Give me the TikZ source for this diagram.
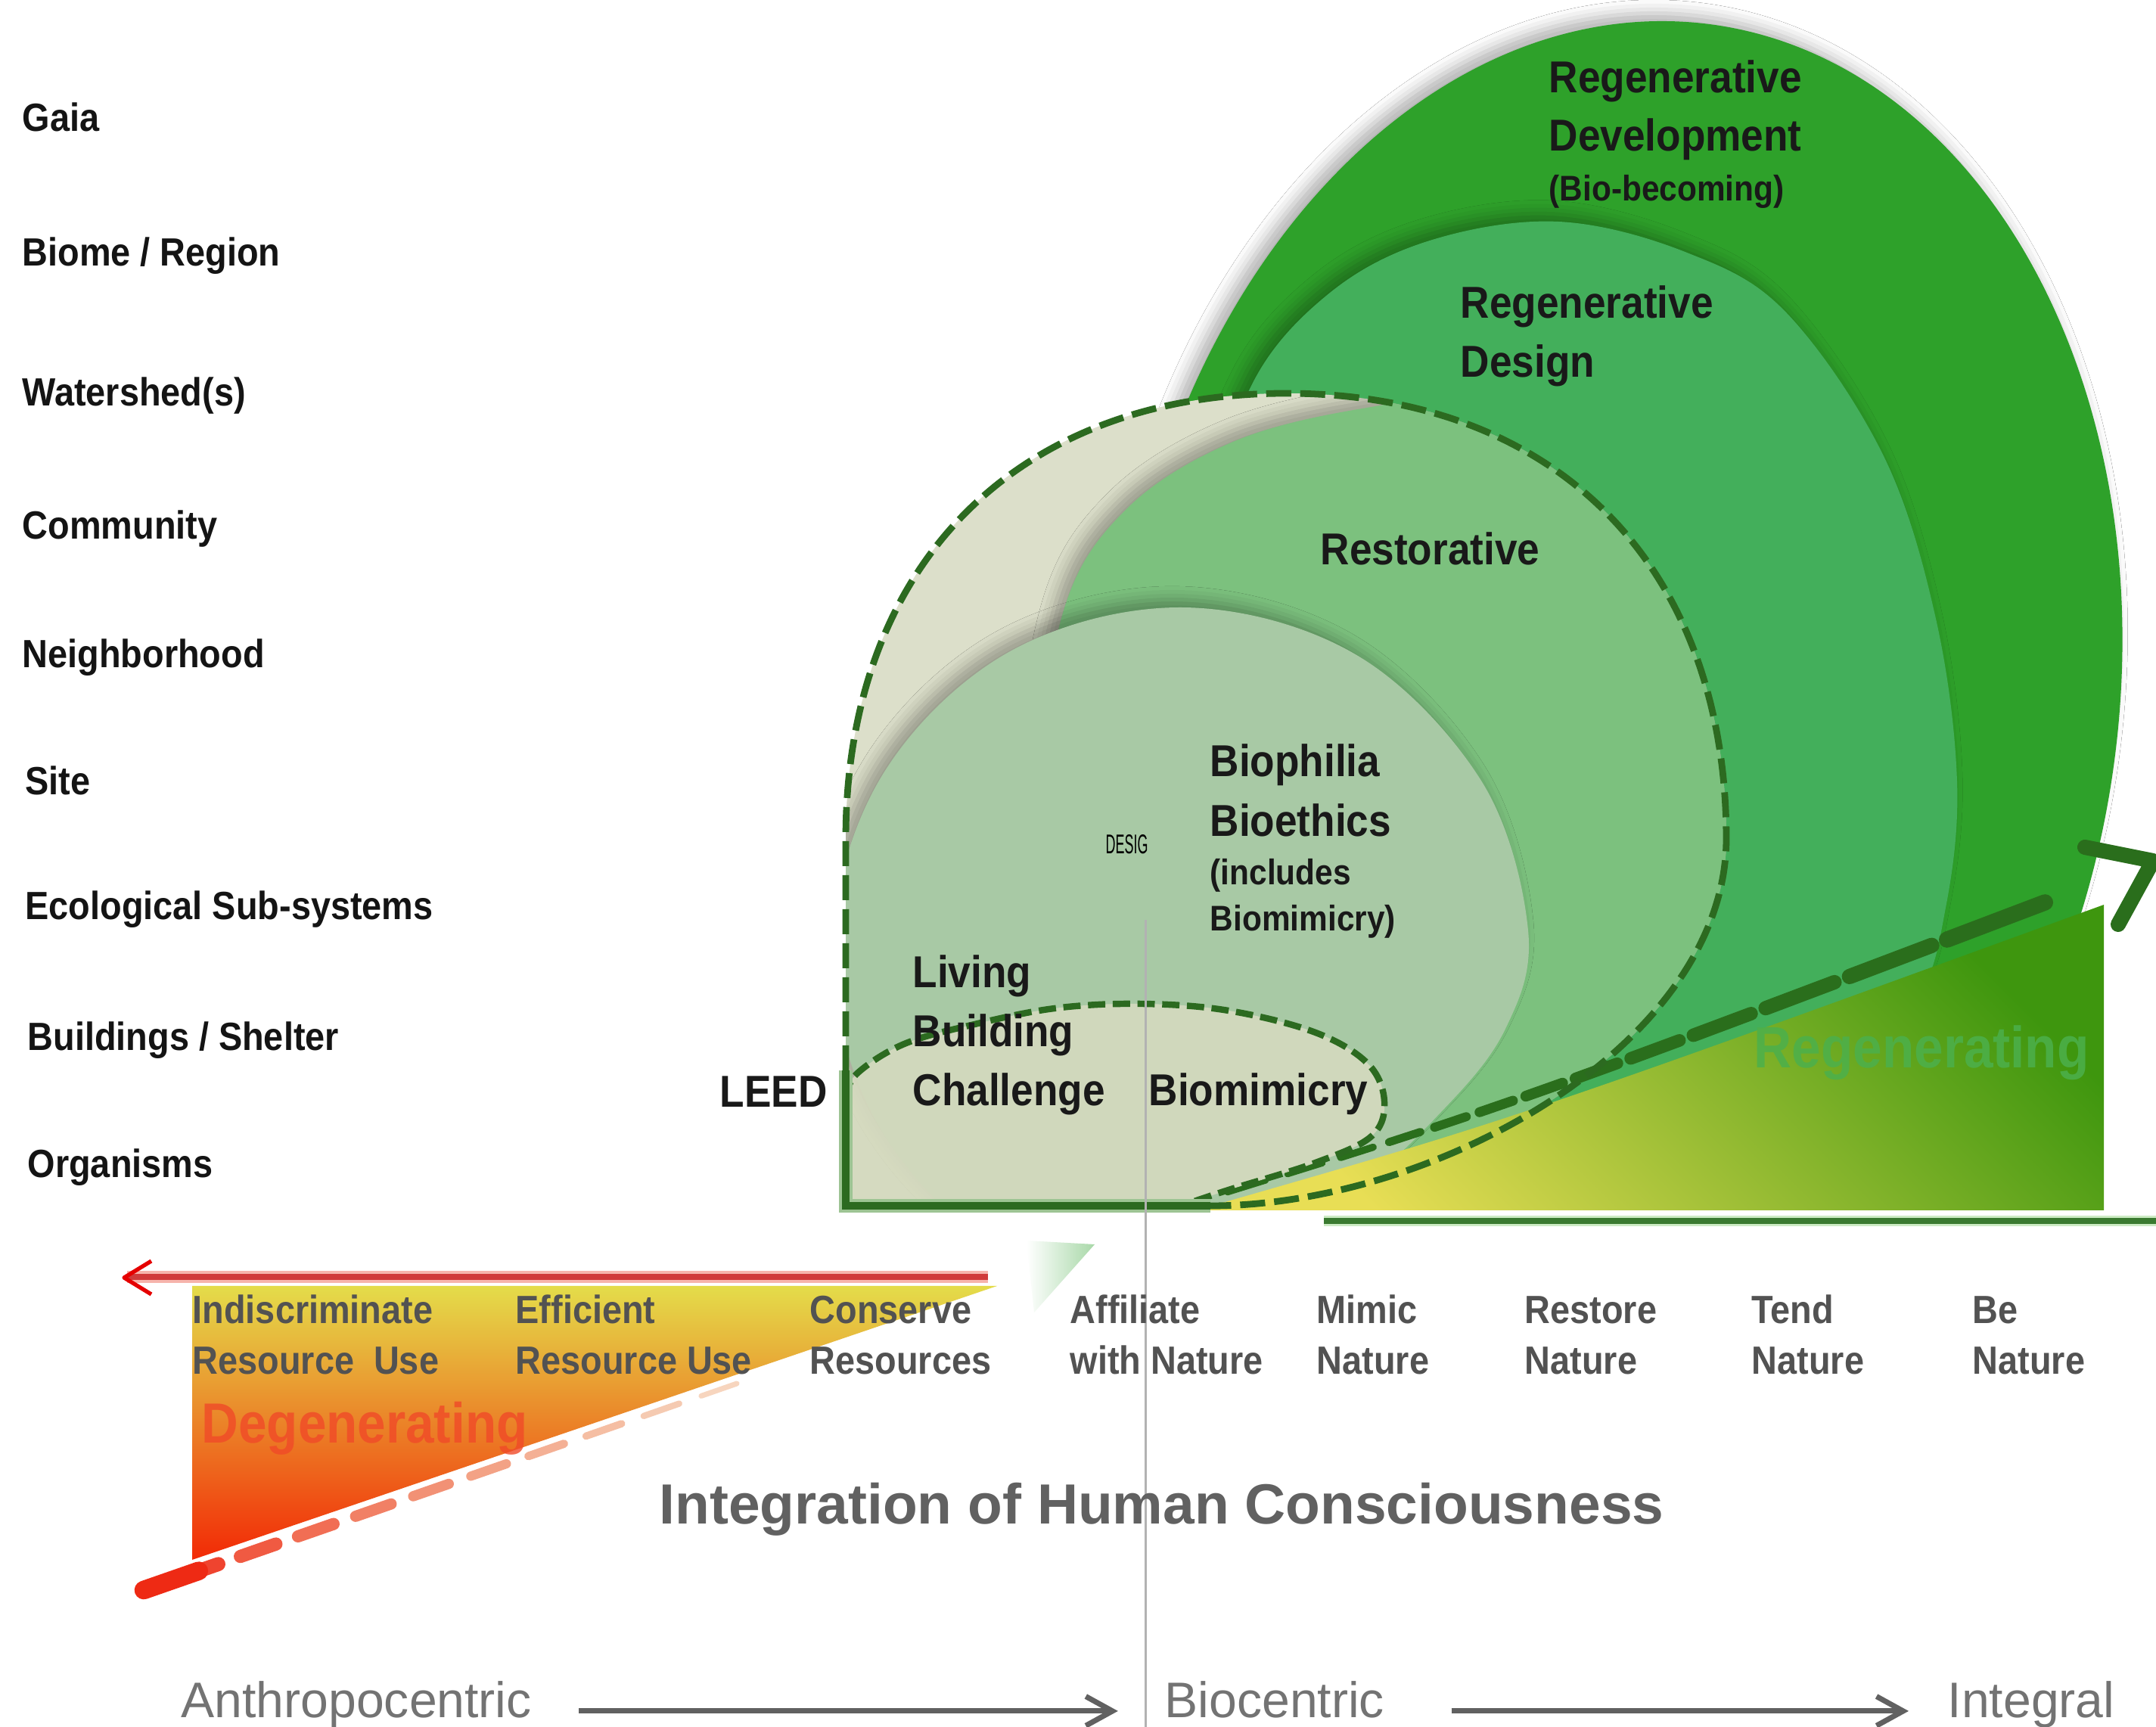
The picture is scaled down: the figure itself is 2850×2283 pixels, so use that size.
\documentclass[tikz,border=0pt]{standalone}
\usepackage{fontspec}
\setmainfont{Liberation Sans}
\newfontfamily\cond[FakeStretch=0.9]{Liberation Sans}
\newfontfamily\narr[FakeStretch=0.5]{Liberation Sans}
\usetikzlibrary{calc,arrows.meta,shadows.blur}
\definecolor{cOuter}{HTML}{2EA12A}
\definecolor{cMed}{HTML}{43AF5B}
\definecolor{cRest}{HTML}{7CC17E}
\definecolor{cBio}{HTML}{A8C9A5}
\definecolor{cBeige}{HTML}{DCDFCA}
\definecolor{cLeed}{HTML}{D5DABF}
\definecolor{cDash}{HTML}{2C6A20}
\definecolor{cArrow}{HTML}{2A6E1C}
\definecolor{cYel}{HTML}{E8DE55}
\definecolor{cMidG}{HTML}{B4C836}
\definecolor{cGrn}{HTML}{3E960E}
\definecolor{cRegTxt}{HTML}{4CB04C}
\definecolor{cDegTxt}{HTML}{F04A28}
\definecolor{cRed}{HTML}{D03A3A}
\definecolor{cPink}{HTML}{F6B4AC}
\definecolor{cLine}{HTML}{3A7A30}
\definecolor{cLineHalo}{HTML}{CDEBC4}
\definecolor{cTopY}{HTML}{E4DC4A}
\definecolor{cMidO}{HTML}{EE9A2E}
\definecolor{cBotR}{HTML}{F22A06}
\definecolor{cWedge}{HTML}{A8D8A8}
\definecolor{cDashO}{HTML}{E89A50}
\definecolor{cDashR}{HTML}{EE2A14}
\def\DshapePath{(1118,1594) -- (1118,1110) .. controls (1118,748) and (1343,520) .. (1700,520) .. controls (2057,520) and (2282,748) .. (2282,1110) .. controls (2280,1380) and (1900,1594) .. (1600,1594) -- cycle}
\def\LeedTop{plot[smooth, tension=0.6] coordinates {(1118,1452) (1132,1420) (1193,1381) (1280,1356) (1394,1333) (1509,1327) (1624,1336) (1739,1365) (1808,1406) (1830,1456) (1813,1502) (1739,1537) (1624,1573) (1567,1592)}}
\begin{document}
\begin{tikzpicture}[x=0.01cm,y=-0.01cm,
  lab/.style={font=\cond\bfseries\fontsize{14.8}{17}\selectfont, text=black!92, inner sep=0pt, anchor=base west},
  blob/.style={font=\cond\bfseries\fontsize{16.8}{20}\selectfont, text=black!90, inner sep=0pt, anchor=base west},
  blobsm/.style={font=\cond\bfseries\fontsize{13.4}{16}\selectfont, text=black!90, inner sep=0pt, anchor=base west},
  bot/.style={font=\cond\bfseries\fontsize{14.8}{17}\selectfont, text=black!68, inner sep=0pt, anchor=base west},
  axislab/.style={font=\fontsize{18.8}{22}\selectfont, text=black!55, inner sep=0pt, anchor=base west},
  dline/.style={draw=cDash, line width=2.5pt, dash pattern=on 9.4pt off 3.4pt},
  lline/.style={draw=cDash, line width=2.4pt, dash pattern=on 6.5pt off 2.8pt},
  grayarr/.style={draw=black!62, line width=2pt, -{Straight Barb[length=10pt,width=11pt,line width=2pt]}},
  softshadow/.style={blur shadow={shadow xshift=-3pt, shadow yshift=3pt, shadow blur radius=5pt, shadow opacity=30}},
]
\useasboundingbox (0,0) rectangle (2850,2283);
\fill[white] (0,0) rectangle (2850,2283);

\begin{scope}
\clip (0,0) rectangle (2850,1600);
% outer ellipse: Regenerative Development
\fill[cOuter, softshadow, rotate around={-8:(2140,924)}] (2140,924) ellipse [x radius=660, y radius=900];
% Regenerative Design
\fill[cMed, softshadow] plot[smooth cycle, tension=0.6] coordinates {(1655,508) (1758,387) (1890,318) (2060,293) (2230,334) (2361,413) (2490,603) (2559,818) (2587,1033) (2572,1200) (2530,1330) (2400,1480) (1900,1550) (1620,1000) (1600,700)};
\end{scope}
% design region
\fill[cBeige] \DshapePath;
\begin{scope}
\clip \DshapePath;
\fill[cRest, softshadow] plot[smooth cycle, tension=0.6] coordinates {(1406,807) (1489,673) (1630,584) (1801,540) (1950,530) (2150,590) (2330,780) (2400,1150) (2250,1500) (1800,1620) (1400,1400) (1375,1050)};
\fill[cBio, softshadow] plot[smooth cycle, tension=0.6] coordinates {(2020,1230) (1990,1360) (1905,1470) (1780,1580) (1560,1700) (1330,1656) (1162,1489) (1100,1260) (1162,1032) (1330,864) (1560,803) (1790,864) (1958,1032)};
\end{scope}

% white area right of the regenerating triangle
\fill[white] (2781,1185) -- (2850,1100) -- (2850,1600) -- (2781,1600) -- cycle;

% Regenerating triangle
\shade[left color=cYel, middle color=cMidG, right color=cGrn, shading angle=135] (1581,1600) .. controls (2000,1480) .. (2781,1196) -- (2781,1600) -- cycle;
\node[font=\cond\bfseries\fontsize{21.9}{24}\selectfont, text=cRegTxt, text opacity=0.85, inner sep=0pt, anchor=base west] (regen) at (2318,1412) {Regenerating};

% dashed growth arrow
\coordinate (ga) at (1580,1590);
\coordinate (gc) at (2000,1460);
\coordinate (gb) at (2790,1160);
\foreach \i in {0,...,12}{
  \pgfmathsetmacro\ta{0.035+\i*0.072}
  \pgfmathsetmacro\tb{\ta+0.045+\i*0.0015}
  \pgfmathsetmacro\lw{(7+\i*1.2)*0.2845}
  \path (ga) .. controls (gc) .. (gb) coordinate[pos=\ta] (d1) coordinate[pos=\tb] (d2);
  \draw[line width=\lw pt, line cap=round, color=cArrow] (d1) -- (d2);
}
\coordinate (ah1) at (2756,1120);
\coordinate (ah2) at (2846,1138);
\coordinate (ah3) at (2800,1222);
\draw[cArrow, line width=5.7pt, line cap=round, line join=round] (ah1) -- (ah2) -- (ah3);

% LEED ellipse
\fill[cLeed, fill opacity=0.9] \LeedTop -- (1118,1594) -- cycle;

% outlines
\draw[dline] (1118,1415) -- (1118,1110) .. controls (1118,748) and (1343,520) .. (1700,520) .. controls (2057,520) and (2282,748) .. (2282,1110) .. controls (2280,1380) and (1900,1594) .. (1600,1594);
\draw[lline] \LeedTop;
\draw[cLineHalo!70!cDash, line width=5pt] (1118,1415) -- (1118,1594) -- (1600,1594);
\draw[cDash, line width=2.8pt, line join=miter] (1118,1415) -- (1118,1594) -- (1600,1594);

% vertical divider
\coordinate (vt) at (1514,1216);
\coordinate (vb) at (1514,2283);
\draw[black!30, line width=0.85pt] (vt) -- (vb);

% ellipse labels
\node[blob] (rd1) at (2047,123) {Regenerative};
\node[blob] (rd2) at (2047,200) {Development};
\node[blobsm] (rd3) at (2047,266) {(Bio-becoming)};
\node[blob] (rg1) at (1930,421) {Regenerative};
\node[blob] (rg2) at (1930,499) {Design};
\node[blob] (rs1) at (1745,747) {Restorative};
\node[blob] (bp1) at (1599,1027) {Biophilia};
\node[blob] (bp2) at (1599,1106) {Bioethics};
\node[blobsm] (bp3) at (1599,1170) {(includes};
\node[blobsm] (bp4) at (1599,1231) {Biomimicry)};
\node[blob] (lb1) at (1206,1306) {Living};
\node[blob] (lb2) at (1206,1384) {Building};
\node[blob] (lb3) at (1206,1462) {Challenge};
\node[blob] (bmm) at (1518,1462) {Biomimicry};
\node[blob] (leed) at (951,1464) {LEED};
\node[font=\narr\fontsize{10.2}{12}\selectfont, inner sep=0pt, anchor=base west] (desig) at (1461,1129) {DESIG};

% scale labels
\node[lab] (l1) at (29,174) {Gaia};
\node[lab] (l2) at (29,352) {Biome / Region};
\node[lab] (l3) at (29,537) {Watershed(s)};
\node[lab] (l4) at (29,713) {Community};
\node[lab] (l5) at (29,883) {Neighborhood};
\node[lab] (l6) at (33,1051) {Site};
\node[lab] (l7) at (33,1216) {Ecological Sub-systems};
\node[lab] (l8) at (36,1389) {Buildings / Shelter};
\node[lab] (l9) at (36,1557) {Organisms};

% green base arrow line
\coordinate (gA) at (1750,1614);
\coordinate (gB) at (2850,1614);
\draw[cLineHalo, line width=4pt] (gA) -- (gB);
\draw[cLine, line width=2pt] (gA) -- (gB);

% degenerating triangle
\shade[top color=cTopY, middle color=cMidO, bottom color=cBotR] (254,1700) -- (1318,1700) -- (254,2062) -- cycle;
\coordinate (rdA) at (1310,1712);
\coordinate (rdB) at (190,2102);
\foreach \i in {0,...,9}{
  \pgfmathsetmacro\ta{0.30+\i*0.068}
  \pgfmathsetmacro\tb{\ta+0.042}
  \pgfmathsetmacro\op{0.35+\i*0.06}
  \pgfmathtruncatemacro\mix{15+\i*9}
  \pgfmathsetmacro\lw{(7+\i*1.3)*0.2845}
  \path (rdA) -- (rdB) coordinate[pos=\ta] (e1) coordinate[pos=\tb] (e2);
  \draw[line width=\lw pt, line cap=round, color=cDashR!\mix!cDashO, opacity=\op] (e1) -- (e2);
}
\path (rdA) -- (rdB) coordinate[pos=0.935] (e3) coordinate[pos=1] (e4);
\draw[line width=7pt, line cap=round, color=cDashR] (e3) -- (e4);
\node[font=\cond\bfseries\fontsize{21.3}{24}\selectfont, text=cDegTxt, text opacity=0.8, inner sep=0pt, anchor=base west] (degen) at (266,1908) {Degenerating};

% red arrow
\coordinate (rA) at (1306,1688);
\coordinate (rB) at (168,1688);
\draw[cPink, line width=4.5pt] (rA) -- (rB);
\draw[cRed, line width=2.3pt] (rA) -- (rB);
\coordinate (rh1) at (200,1667);
\coordinate (rh2) at (164,1689);
\coordinate (rh3) at (200,1711);
\draw[red!90!black, line width=1.5pt, line join=round] (rh1) -- (rh2) -- (rh3);

% green wedge
\shade[left color=white, right color=cWedge] (1357,1640) -- (1447,1645) -- (1367,1735) -- cycle;

% bottom categories
\node[bot] (c1a) at (254,1750) {Indiscriminate};
\node[bot] (c1b) at (254,1817) {Resource~ Use};
\node[bot] (c2a) at (681,1750) {Efficient};
\node[bot] (c2b) at (681,1817) {Resource Use};
\node[bot] (c3a) at (1070,1750) {Conserve};
\node[bot] (c3b) at (1070,1817) {Resources};
\node[bot] (c4a) at (1414,1750) {Affiliate};
\node[bot] (c4b) at (1414,1817) {with Nature};
\node[bot] (c5a) at (1740,1750) {Mimic};
\node[bot] (c5b) at (1740,1817) {Nature};
\node[bot] (c6a) at (2015,1750) {Restore};
\node[bot] (c6b) at (2015,1817) {Nature};
\node[bot] (c7a) at (2315,1750) {Tend};
\node[bot] (c7b) at (2315,1817) {Nature};
\node[bot] (c8a) at (2607,1750) {Be};
\node[bot] (c8b) at (2607,1817) {Nature};

\node[font=\bfseries\fontsize{21.3}{24}\selectfont, text=black!62, inner sep=0pt, anchor=base west] (integ) at (871,2015) {Integration of Human Consciousness};

% bottom axis
\node[axislab] (anthro) at (239,2270) {Anthropocentric};
\node[axislab] (bio) at (1539,2270) {Biocentric};
\node[axislab] (integral) at (2574,2270) {Integral};
\draw[grayarr, shorten <=17.6pt, shorten >=17.4pt] ([yshift=2.3pt]anthro.base east) -- ([yshift=2.3pt]bio.base west);
\draw[grayarr, shorten <=25pt, shorten >=14.5pt] ([yshift=2.3pt]bio.base east) -- ([yshift=2.3pt]integral.base west);
\end{tikzpicture}
\end{document}
